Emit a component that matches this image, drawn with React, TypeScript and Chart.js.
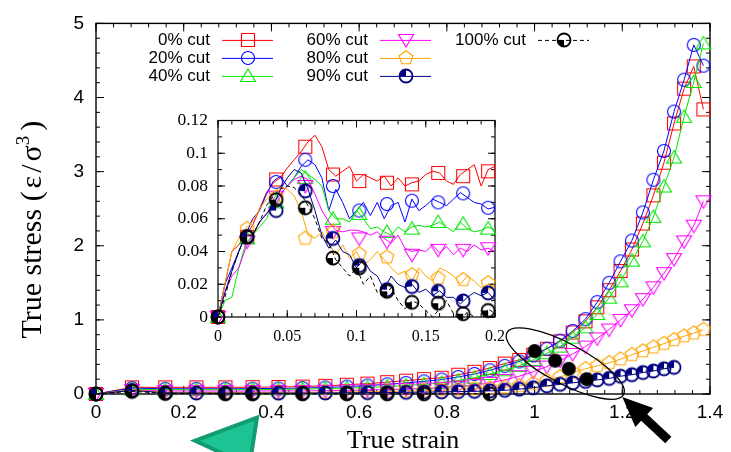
import React, { useEffect, useRef } from "react";
import { Chart, registerables } from "chart.js";

Chart.register(...registerables);

// ---------------- main plot data ----------------
const strain = [0, 0.082, 0.158, 0.229, 0.295, 0.357, 0.416, 0.471, 0.523, 0.572, 0.619, 0.664, 0.707, 0.748, 0.788, 0.826, 0.863, 0.898, 0.932, 0.965, 0.997, 1.028, 1.058, 1.087, 1.116, 1.143, 1.17, 1.196, 1.222, 1.247, 1.271, 1.295, 1.318, 1.341, 1.363, 1.385];
const cut0 = [0, 0.09, 0.09, 0.09, 0.09, 0.092, 0.095, 0.1, 0.11, 0.125, 0.14, 0.16, 0.18, 0.2, 0.22, 0.26, 0.3, 0.35, 0.41, 0.46, 0.53, 0.61, 0.71, 0.83, 0.98, 1.17, 1.4, 1.66, 1.95, 2.3, 2.68, 3.12, 3.65, 4.12, 4.42, 3.84];
const cut20 = [0, 0.08, 0.07, 0.07, 0.07, 0.072, 0.075, 0.08, 0.088, 0.1, 0.115, 0.13, 0.15, 0.17, 0.195, 0.23, 0.27, 0.32, 0.38, 0.44, 0.52, 0.61, 0.72, 0.85, 1.01, 1.24, 1.5, 1.79, 2.07, 2.45, 2.89, 3.28, 3.81, 4.24, 4.71, 4.43];
const cut40 = [0, 0.06, 0.058, 0.057, 0.057, 0.06, 0.062, 0.066, 0.072, 0.08, 0.09, 0.1, 0.115, 0.13, 0.15, 0.18, 0.22, 0.27, 0.32, 0.38, 0.46, 0.55, 0.64, 0.76, 0.9, 1.08, 1.3, 1.52, 1.8, 2.06, 2.39, 2.8, 3.19, 3.74, 4.21, 4.73];
const cut60 = [0, 0.052, 0.041, 0.04, 0.04, 0.04, 0.041, 0.042, 0.045, 0.05, 0.055, 0.06, 0.068, 0.075, 0.085, 0.1, 0.12, 0.15, 0.19, 0.24, 0.3, 0.37, 0.45, 0.54, 0.64, 0.75, 0.87, 1.0, 1.13, 1.28, 1.44, 1.63, 1.82, 2.06, 2.27, 2.6];
const cut80 = [0, 0.052, 0.024, 0.02, 0.02, 0.02, 0.021, 0.022, 0.024, 0.027, 0.03, 0.035, 0.04, 0.045, 0.05, 0.06, 0.07, 0.08, 0.09, 0.11, 0.14, 0.18, 0.23, 0.29, 0.34, 0.38, 0.42, 0.47, 0.53, 0.58, 0.63, 0.68, 0.73, 0.78, 0.82, 0.87];
const cut90 = [0, 0.048, 0.016, 0.013, 0.012, 0.012, 0.012, 0.013, 0.014, 0.016, 0.018, 0.02, 0.022, 0.025, 0.028, 0.032, 0.036, 0.042, 0.05, 0.065, 0.085, 0.11, 0.13, 0.15, 0.17, 0.19, 0.21, 0.24, 0.26, 0.29, 0.31, 0.34, 0.36];
const strain100 = [0, 0.082, 0.158, 0.295, 0.357, 0.471, 0.572, 0.664, 0.748, 0.898];
const cut100 = [0, 0.036, 0.008, 0.004, 0.003, 0.003, 0.003, 0.003, 0.003, 0.003];
const failStrain = [1.0, 1.047, 1.078, 1.119];
const failStress = [0.58, 0.45, 0.34, 0.2];

const xTicks = [0, 0.2, 0.4, 0.6, 0.8, 1, 1.2, 1.4];
const yTicks = [0, 1, 2, 3, 4, 5];

// ---------------- inset data ----------------
const insetStrain = [0, 0.005, 0.01, 0.015, 0.02, 0.025, 0.03, 0.035, 0.04, 0.045, 0.05, 0.055, 0.06, 0.065, 0.07, 0.075, 0.08, 0.085, 0.09, 0.095, 0.1, 0.105, 0.11, 0.115, 0.12, 0.125, 0.13, 0.135, 0.14, 0.145, 0.15, 0.155, 0.16, 0.165, 0.17, 0.175, 0.18, 0.185, 0.19, 0.195, 0.2];
const inset0 = [0, 0.02, 0.04, 0.044, 0.05, 0.056, 0.066, 0.076, 0.082, 0.085, 0.091, 0.096, 0.101, 0.107, 0.111, 0.104, 0.09, 0.086, 0.089, 0.092, 0.083, 0.087, 0.085, 0.083, 0.086, 0.08, 0.085, 0.08, 0.082, 0.083, 0.087, 0.089, 0.088, 0.083, 0.081, 0.087, 0.09, 0.093, 0.08, 0.09, 0.092];
const inset20 = [0, 0.02, 0.03, 0.04, 0.05, 0.06, 0.065, 0.075, 0.083, 0.086, 0.08, 0.085, 0.092, 0.096, 0.093, 0.085, 0.065, 0.078, 0.07, 0.06, 0.065, 0.07, 0.062, 0.07, 0.06, 0.068, 0.07, 0.058, 0.072, 0.065, 0.068, 0.072, 0.07, 0.068, 0.072, 0.076, 0.073, 0.07, 0.069, 0.066, 0.067];
const inset40 = [0, 0.01, 0.012, 0.03, 0.045, 0.05, 0.055, 0.06, 0.07, 0.075, 0.08, 0.085, 0.09, 0.087, 0.084, 0.08, 0.065, 0.06, 0.06, 0.058, 0.065, 0.06, 0.054, 0.055, 0.052, 0.05, 0.055, 0.052, 0.055, 0.056, 0.055, 0.056, 0.058, 0.055, 0.052, 0.058, 0.054, 0.052, 0.053, 0.055, 0.053];
const inset60 = [0, 0.015, 0.025, 0.03, 0.042, 0.05, 0.058, 0.063, 0.07, 0.075, 0.08, 0.084, 0.086, 0.084, 0.075, 0.065, 0.058, 0.053, 0.052, 0.053, 0.053, 0.052, 0.05, 0.052, 0.048, 0.045, 0.05, 0.042, 0.04, 0.041, 0.04, 0.044, 0.039, 0.043, 0.038, 0.042, 0.04, 0.044, 0.041, 0.042, 0.04];
const inset80 = [0, 0.02, 0.04, 0.048, 0.054, 0.058, 0.066, 0.072, 0.076, 0.079, 0.078, 0.074, 0.065, 0.05, 0.048, 0.052, 0.045, 0.038, 0.044, 0.036, 0.04, 0.032, 0.035, 0.04, 0.035, 0.03, 0.026, 0.028, 0.022, 0.03, 0.025, 0.022, 0.03, 0.028, 0.025, 0.02, 0.025, 0.022, 0.018, 0.02, 0.018];
const inset90 = [0, 0.015, 0.028, 0.04, 0.05, 0.05, 0.058, 0.063, 0.068, 0.078, 0.085, 0.09, 0.088, 0.078, 0.065, 0.05, 0.042, 0.047, 0.04, 0.038, 0.03, 0.035, 0.028, 0.025, 0.017, 0.025, 0.02, 0.018, 0.02, 0.015, 0.017, 0.013, 0.016, 0.012, 0.012, 0.008, 0.012, 0.015, 0.013, 0.015, 0.01];
const inset100 = [0, 0.012, 0.028, 0.04, 0.05, 0.05, 0.058, 0.068, 0.074, 0.078, 0.08, 0.079, 0.075, 0.068, 0.06, 0.048, 0.045, 0.035, 0.03, 0.025, 0.03, 0.02, 0.025, 0.015, 0.012, 0.018, 0.01, 0.005, 0.01, 0.008, 0.004, 0, 0.005, 0.01, 0.002, -0.002, 0.003, 0, -0.002, 0.005, 0.002];

const insetMarkStrain = [0, 0.021, 0.042, 0.063, 0.083, 0.102, 0.122, 0.14, 0.159, 0.177, 0.195];
const insetMark0 = [0, 0.049, 0.084, 0.104, 0.087, 0.083, 0.082, 0.081, 0.088, 0.086, 0.089];
const insetMark20 = [0, 0.049, 0.0825, 0.096, 0.08, 0.065, 0.069, 0.071, 0.07, 0.0755, 0.0667];
const insetMark40 = [0, 0.048, 0.07, 0.085, 0.06, 0.063, 0.052, 0.054, 0.058, 0.057, 0.054];
const insetMark60 = [0, 0.046, 0.0735, 0.08, 0.052, 0.048, 0.046, 0.038, 0.041, 0.041, 0.042];
const insetMark80 = [0, 0.054, 0.073, 0.048, 0.052, 0.0385, 0.0365, 0.0257, 0.0237, 0.0227, 0.0208];
const insetMark90 = [0, 0.049, 0.065, 0.077, 0.048, 0.0314, 0.0167, 0.0186, 0.0157, 0.0098, 0.0147];
const insetMark100 = [0, 0.049, 0.0716, 0.0667, 0.036, 0.03, 0.0157, 0.009, 0.0084, 0.002, 0.004];

const insetXTicks = [0, 0.05, 0.1, 0.15, 0.2];
const insetYTicks = [0, 0.02, 0.04, 0.06, 0.08, 0.1, 0.12];

// ---------------- series styling ----------------
const seriesLabels = ["0% cut", "20% cut", "40% cut", "60% cut", "80% cut", "90% cut", "100% cut"];
const seriesColors = ["#ff0000", "#0000ff", "#00e600", "#ff00ff", "#ffa500", "#000080", "#000000"];
type Kind = "square" | "circle" | "tri" | "itri" | "pent" | "qTL" | "qBL";
const seriesMarkers: Kind[] = ["square", "circle", "tri", "itri", "pent", "qTL", "qBL"];
const seriesDash = [[], [], [], [], [], [], [4, 3]];

// y-axis title pieces: text, font size, raise (px), gap after (px)
const yTitleParts: [string, number, number, number][] = [
  ["True stress (", 30, 0, 3],
  ["ε", 30, 0, 3],
  ["/", 30, 0, 3],
  ["σ", 30, 0, 0],
  ["3", 19, 12, 5],
  [")", 30, 0, 0],
];

// annotation geometry (data coordinates for anchors, pixels for sizes)
const ellipseSpec = { x: 1.07, y: 0.41, rx: 66, ry: 20, rotDeg: 28 };
const arrowSpec = { tipX: 1.2, tipY: -0.04, tailX: 1.305, tailY: -0.62, head: 30, headHalf: 13, shaftHalf: 4.5 };
const triangleSpec = { xs: [0.367, 0.226, 0.35], ys: [-0.32, -0.63, -0.97] };

function makeMarker(kind: Kind, color: string): HTMLCanvasElement {
  const S = 20;
  const c = document.createElement("canvas");
  c.width = S;
  c.height = S;
  const g = c.getContext("2d")!;
  const m = S / 2;
  g.strokeStyle = color;
  g.fillStyle = color;
  g.lineWidth = 1.1;
  g.beginPath();
  if (kind === "square") {
    g.rect(m - 6.5, m - 6.5, 13, 13);
    g.stroke();
  } else if (kind === "circle") {
    g.arc(m, m, 6.5, 0, Math.PI * 2);
    g.stroke();
  } else if (kind === "tri") {
    g.moveTo(m, m - 7);
    g.lineTo(m + 7.5, m + 5.5);
    g.lineTo(m - 7.5, m + 5.5);
    g.closePath();
    g.stroke();
  } else if (kind === "itri") {
    g.moveTo(m, m + 7);
    g.lineTo(m + 7.5, m - 5.5);
    g.lineTo(m - 7.5, m - 5.5);
    g.closePath();
    g.stroke();
  } else if (kind === "pent") {
    for (let k = 0; k < 5; k++) {
      const a = -Math.PI / 2 + (k * 2 * Math.PI) / 5;
      const px = m + 7.2 * Math.cos(a);
      const py = m + 7.2 * Math.sin(a);
      if (k === 0) g.moveTo(px, py);
      else g.lineTo(px, py);
    }
    g.closePath();
    g.stroke();
  } else {
    const a0 = kind === "qTL" ? Math.PI : 0.5 * Math.PI;
    const a1 = kind === "qTL" ? 1.5 * Math.PI : Math.PI;
    g.moveTo(m, m);
    g.arc(m, m, 6.5, a0, a1);
    g.closePath();
    g.fill();
    g.beginPath();
    g.lineWidth = 1.8;
    g.arc(m, m, 6.5, 0, Math.PI * 2);
    g.stroke();
  }
  return c;
}

function makeDot(color: string, r: number): HTMLCanvasElement {
  const S = Math.ceil(r * 2 + 2);
  const c = document.createElement("canvas");
  c.width = S;
  c.height = S;
  const g = c.getContext("2d")!;
  g.fillStyle = color;
  g.beginPath();
  g.arc(S / 2, S / 2, r, 0, Math.PI * 2);
  g.fill();
  return c;
}

function drawFrame(chart: any, xMaj: number[], xMinStep: number, yMaj: number[], yMinStep: number, majLen: number, minLen: number, boxW: number) {
  const { ctx, chartArea: a, scales } = chart;
  const xs = scales.x;
  const ys = scales.y;
  ctx.save();
  ctx.strokeStyle = "#000";
  ctx.lineWidth = 1;
  ctx.beginPath();
  const xTick = (v: number, len: number) => {
    const p = xs.getPixelForValue(v);
    ctx.moveTo(p, a.bottom);
    ctx.lineTo(p, a.bottom - len);
    ctx.moveTo(p, a.top);
    ctx.lineTo(p, a.top + len);
  };
  const yTick = (v: number, len: number) => {
    const p = ys.getPixelForValue(v);
    ctx.moveTo(a.left, p);
    ctx.lineTo(a.left + len, p);
    ctx.moveTo(a.right, p);
    ctx.lineTo(a.right - len, p);
  };
  const nx = Math.round((xs.max - xs.min) / xMinStep);
  for (let i = 0; i <= nx; i++) xTick(xs.min + i * xMinStep, minLen);
  const ny = Math.round((ys.max - ys.min) / yMinStep);
  for (let i = 0; i <= ny; i++) yTick(ys.min + i * yMinStep, minLen);
  xMaj.forEach((v) => xTick(v, majLen));
  yMaj.forEach((v) => yTick(v, majLen));
  ctx.stroke();
  ctx.lineWidth = boxW;
  ctx.strokeRect(a.left, a.top, a.right - a.left, a.bottom - a.top);
  ctx.restore();
}

function drawYTitle(chart: any) {
  const { ctx, chartArea: a } = chart;
  ctx.save();
  ctx.fillStyle = "#000";
  ctx.textBaseline = "alphabetic";
  ctx.textAlign = "left";
  let total = 0;
  const widths = yTitleParts.map(([t, size, , gap]) => {
    ctx.font = `${size}px "Liberation Serif"`;
    const w = ctx.measureText(t).width;
    total += w + gap;
    return w;
  });
  const cy = (a.top + a.bottom) / 2 + 21;
  ctx.translate(41, cy);
  ctx.rotate(-Math.PI / 2);
  let pos = -total / 2;
  yTitleParts.forEach(([t, size, raise, gap], i) => {
    ctx.font = `${size}px "Liberation Serif"`;
    ctx.fillText(t, pos, -raise);
    pos += widths[i] + gap;
  });
  ctx.restore();
}

export default function App() {
  const mainRef = useRef<HTMLCanvasElement>(null);
  const insetRef = useRef<HTMLCanvasElement>(null);

  useEffect(() => {
    const markers = seriesMarkers.map((k, i) => makeMarker(k, seriesColors[i]));
    const dot = makeDot("#000", 7);

    const mainX = [strain, strain, strain, strain, strain, strain, strain100];
    const mainY = [cut0, cut20, cut40, cut60, cut80, cut90, cut100];

    const mainDatasets: any[] = mainY.map((ys, i) => ({
      label: seriesLabels[i],
      data: ys.map((y, j) => ({ x: mainX[i][j], y })),
      showLine: true,
      borderColor: seriesColors[i],
      backgroundColor: seriesColors[i],
      borderWidth: 1,
      borderDash: seriesDash[i],
      pointStyle: markers[i],
      pointRadius: 7,
      pointHoverRadius: 7,
      clip: false,
      order: -i,
    }));
    mainDatasets.push({
      label: "failure",
      data: failStrain.map((x, j) => ({ x, y: failStress[j] })),
      showLine: false,
      pointStyle: dot,
      pointRadius: 7,
      clip: false,
      order: -100,
    });

    const mainPlugin = {
      id: "mainFrame",
      beforeDatasetsDraw(chart: any) {
        drawFrame(chart, xTicks, 0.04, yTicks, 0.2, 8, 4, 1.4);
      },
      afterDraw(chart: any) {
        const { ctx, chartArea: a, scales } = chart;
        const xs = scales.x;
        const ys = scales.y;
        drawYTitle(chart);
        // legend
        const cols = [[0, 1, 2], [3, 4, 5], [6]];
        ctx.save();
        ctx.font = '17px "Liberation Sans"';
        ctx.textAlign = "right";
        ctx.textBaseline = "middle";
        cols.forEach((col, c) => {
          col.forEach((si, r) => {
            const tx = a.left + 114 + c * 158;
            const ty = a.top + 17 + r * 18;
            ctx.fillStyle = "#000";
            ctx.fillText(seriesLabels[si], tx, ty);
            ctx.save();
            ctx.strokeStyle = seriesColors[si];
            ctx.lineWidth = 1;
            ctx.setLineDash(seriesDash[si]);
            ctx.beginPath();
            ctx.moveTo(tx + 12, ty);
            ctx.lineTo(tx + 63, ty);
            ctx.stroke();
            ctx.restore();
            const mk = markers[si];
            ctx.drawImage(mk, Math.round(tx + 37.5 - mk.width / 2), Math.round(ty - mk.height / 2));
          });
        });
        // ellipse
        ctx.strokeStyle = "#000";
        ctx.lineWidth = 1.3;
        ctx.beginPath();
        ctx.ellipse(
          xs.getPixelForValue(ellipseSpec.x),
          ys.getPixelForValue(ellipseSpec.y),
          ellipseSpec.rx,
          ellipseSpec.ry,
          (ellipseSpec.rotDeg * Math.PI) / 180,
          0,
          Math.PI * 2
        );
        ctx.stroke();
        // arrow
        const tx = xs.getPixelForValue(arrowSpec.tipX);
        const ty = ys.getPixelForValue(arrowSpec.tipY);
        const lx = xs.getPixelForValue(arrowSpec.tailX);
        const ly = ys.getPixelForValue(arrowSpec.tailY);
        const len = Math.hypot(lx - tx, ly - ty);
        const dx = (lx - tx) / len;
        const dy = (ly - ty) / len;
        const nx = -dy;
        const ny = dx;
        const bx = tx + dx * arrowSpec.head;
        const by = ty + dy * arrowSpec.head;
        ctx.fillStyle = "#000";
        ctx.beginPath();
        ctx.moveTo(tx, ty);
        ctx.lineTo(bx + nx * arrowSpec.headHalf, by + ny * arrowSpec.headHalf);
        ctx.lineTo(bx + nx * arrowSpec.shaftHalf, by + ny * arrowSpec.shaftHalf);
        ctx.lineTo(lx + nx * arrowSpec.shaftHalf, ly + ny * arrowSpec.shaftHalf);
        ctx.lineTo(lx - nx * arrowSpec.shaftHalf, ly - ny * arrowSpec.shaftHalf);
        ctx.lineTo(bx - nx * arrowSpec.shaftHalf, by - ny * arrowSpec.shaftHalf);
        ctx.lineTo(bx - nx * arrowSpec.headHalf, by - ny * arrowSpec.headHalf);
        ctx.closePath();
        ctx.fill();
        // green triangle
        ctx.beginPath();
        triangleSpec.xs.forEach((vx, k) => {
          const px = xs.getPixelForValue(vx);
          const py = ys.getPixelForValue(triangleSpec.ys[k]);
          if (k === 0) ctx.moveTo(px, py);
          else ctx.lineTo(px, py);
        });
        ctx.closePath();
        ctx.fillStyle = "#1dc392";
        ctx.fill();
        ctx.strokeStyle = "#119c72";
        ctx.lineWidth = 4;
        ctx.lineJoin = "miter";
        ctx.stroke();
        ctx.restore();
      },
    };

    const main = new Chart(mainRef.current!, {
      type: "scatter",
      data: { datasets: mainDatasets },
      options: {
        animation: false,
        responsive: false,
        events: [],
        layout: { padding: { left: 0, right: 21, top: 15, bottom: 0 } },
        plugins: { legend: { display: false }, tooltip: { enabled: false } },
        scales: {
          x: {
            type: "linear",
            min: 0,
            max: 1.4,
            grid: { display: false, drawTicks: false },
            border: { display: false },
            afterBuildTicks: (s: any) => {
              s.ticks = xTicks.map((v) => ({ value: v }));
            },
            ticks: {
              font: { family: "Liberation Sans", size: 19 },
              color: "#000",
              padding: 7,
              maxRotation: 0,
              autoSkip: false,
              callback: (v: any) => String(v),
            },
            title: {
              display: true,
              text: "True strain",
              color: "#000",
              font: { family: "Liberation Serif", size: 26, lineHeight: 0.85 },
              padding: { top: 0, bottom: 0 },
            },
            afterFit: (s: any) => {
              s.height = 58;
            },
          },
          y: {
            type: "linear",
            min: 0,
            max: 5,
            grid: { display: false, drawTicks: false },
            border: { display: false },
            afterBuildTicks: (s: any) => {
              s.ticks = yTicks.map((v) => ({ value: v }));
            },
            ticks: {
              font: { family: "Liberation Sans", size: 19 },
              color: "#000",
              padding: 12,
              autoSkip: false,
              callback: (v: any) => String(v),
            },
            afterFit: (s: any) => {
              s.width = 96;
            },
          },
        },
      },
      plugins: [mainPlugin],
    });

    // ---------------- inset ----------------
    const insetLines = [inset0, inset20, inset40, inset60, inset80, inset90, inset100];
    const insetMarks = [insetMark0, insetMark20, insetMark40, insetMark60, insetMark80, insetMark90, insetMark100];
    const insetDatasets: any[] = [];
    insetLines.forEach((ys, i) => {
      insetDatasets.push({
        label: seriesLabels[i],
        data: ys.map((y, j) => ({ x: insetStrain[j], y })),
        showLine: true,
        borderColor: seriesColors[i],
        backgroundColor: seriesColors[i],
        borderWidth: 1,
        borderDash: seriesDash[i],
        pointRadius: 0,
        order: -2 * i,
      });
      insetDatasets.push({
        label: seriesLabels[i] + " markers",
        data: insetMarks[i].map((y, j) => ({ x: insetMarkStrain[j], y })),
        showLine: false,
        pointStyle: markers[i],
        pointRadius: 7,
        clip: false,
        order: -2 * i - 1,
      });
    });

    const insetPlugin = {
      id: "insetFrame",
      beforeDraw(chart: any) {
        const { ctx, chartArea: a } = chart;
        ctx.save();
        ctx.fillStyle = "#fff";
        ctx.fillRect(a.left, a.top, a.right - a.left, a.bottom - a.top);
        ctx.restore();
      },
      beforeDatasetsDraw(chart: any) {
        drawFrame(chart, insetXTicks, 0.01, insetYTicks, 0.01, 7, 4, 1.2);
      },
    };

    const inset = new Chart(insetRef.current!, {
      type: "scatter",
      data: { datasets: insetDatasets },
      options: {
        animation: false,
        responsive: false,
        events: [],
        layout: { padding: { left: 0, right: 16, top: 13, bottom: 0 } },
        plugins: { legend: { display: false }, tooltip: { enabled: false } },
        scales: {
          x: {
            type: "linear",
            min: 0,
            max: 0.2,
            grid: { display: false, drawTicks: false },
            border: { display: false },
            afterBuildTicks: (s: any) => {
              s.ticks = insetXTicks.map((v) => ({ value: v }));
            },
            ticks: {
              font: { family: "Liberation Serif", size: 16 },
              color: "#000",
              padding: 10,
              maxRotation: 0,
              autoSkip: false,
              callback: (v: any) => String(v),
            },
            afterFit: (s: any) => {
              s.height = 33;
            },
          },
          y: {
            type: "linear",
            min: 0,
            max: 0.12,
            grid: { display: false, drawTicks: false },
            border: { display: false },
            afterBuildTicks: (s: any) => {
              s.ticks = insetYTicks.map((v) => ({ value: v }));
            },
            ticks: {
              font: { family: "Liberation Serif", size: 17.5 },
              color: "#000",
              padding: 10,
              autoSkip: false,
              callback: (v: any) => String(v),
            },
            afterFit: (s: any) => {
              s.width = 68;
            },
          },
        },
      },
      plugins: [insetPlugin],
    });

    return () => {
      main.destroy();
      inset.destroy();
    };
  }, []);

  return (
    <div style={{ position: "fixed", left: 0, top: 0, width: 731, height: 452, background: "#fff", overflow: "hidden" }}>
      <canvas ref={mainRef} width={731} height={452} style={{ position: "absolute", left: 0, top: 0, width: 731, height: 452 }} />
      <canvas ref={insetRef} width={365} height={250} style={{ position: "absolute", left: 150, top: 100, width: 365, height: 250 }} />
    </div>
  );
}
